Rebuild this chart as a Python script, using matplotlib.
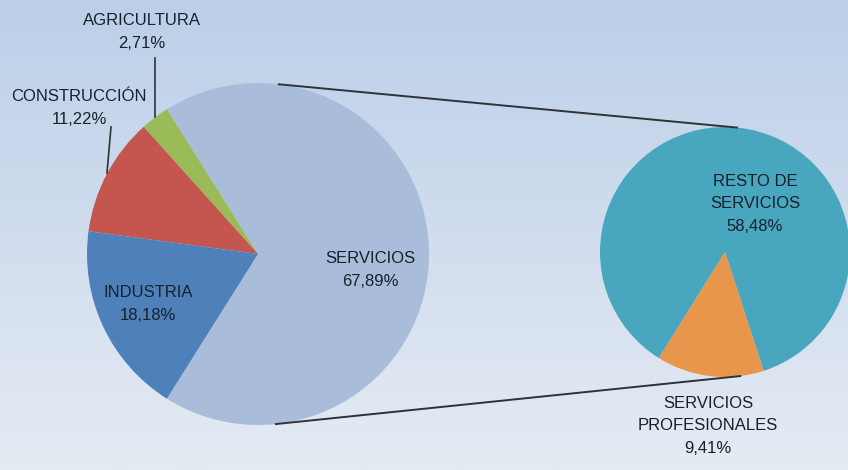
import numpy as np
import matplotlib.pyplot as plt
from matplotlib.colors import LinearSegmentedColormap

plt.rcParams['font.family'] = ['Liberation Sans', 'DejaVu Sans']

# main pie
main_labels = ['SERVICIOS', 'AGRICULTURA', 'CONSTRUCCIÓN', 'INDUSTRIA']
main_vals = [67.89, 2.71, 11.22, 18.18]
main_colors = ['#a9bcd9', '#9bbb59', '#c4554f', '#4e80ba']

# secondary pie (breakdown of SERVICIOS)
sub_labels = ['RESTO DE\nSERVICIOS', 'SERVICIOS\nPROFESIONALES']
sub_vals = [58.48, 9.41]
sub_colors = ['#48a7bf', '#e8964b']

W, H = 848, 470
fig = plt.figure(figsize=(W / 100, H / 100), dpi=100)
ax = fig.add_axes([0, 0, 1, 1])

# background gradient
grad = np.linspace(0, 1, 256).reshape(-1, 1)
cmap = LinearSegmentedColormap.from_list('bg', ['#bccfe9', '#e5ebf3'])
ax.imshow(grad, extent=[0, W, 0, H], cmap=cmap, aspect='auto', zorder=0, origin='upper')

c1, r1 = (258, H - 254), 171
c2, r2 = (725, H - 252), 125

start1 = -main_vals[0] / 100 * 360 / 2
w1, _ = ax.pie(main_vals, colors=main_colors, startangle=start1, center=c1,
               radius=r1, wedgeprops=dict(linewidth=0), frame=True)
w2, _ = ax.pie(sub_vals, colors=sub_colors, startangle=-72, center=c2,
               radius=r2, wedgeprops=dict(linewidth=0), frame=True)
for w in w1 + w2:
    w.set_zorder(2)

# connector lines
def pt(c, r, a):
    return c[0] + r * np.cos(np.radians(a)), c[1] + r * np.sin(np.radians(a))

for a1, a2 in [(83, 84.5), (-84, -83)]:
    p1 = pt(c1, r1, a1)
    p2 = pt(c2, r2, a2)
    ax.plot([p1[0], p2[0]], [p1[1], p2[1]], color='#2e3338', lw=1.4, zorder=3)

tc = '#17212b'
fs = 12
ls = 1.6
ax.text(142, H - 32, 'AGRICULTURA\n2,71%', ha='center', va='center', fontsize=fs,
        color=tc, linespacing=ls, zorder=4)
ax.text(79, H - 108, 'CONSTRUCCIÓN\n11,22%', ha='center', va='center', fontsize=fs,
        color=tc, linespacing=ls, zorder=4)
ax.text(148, H - 304, 'INDUSTRIA\n18,18%', ha='center', va='center', fontsize=fs,
        color=tc, linespacing=ls, zorder=4)
ax.text(370, H - 270, 'SERVICIOS\n67,89%', ha='center', va='center', fontsize=fs,
        color=tc, linespacing=ls, zorder=4)
ax.text(755, H - 204, 'RESTO DE\nSERVICIOS\n58,48%', ha='center', va='center',
        fontsize=fs, color=tc, linespacing=ls, zorder=4)
ax.text(708, H - 426, 'SERVICIOS\nPROFESIONALES\n9,41%', ha='center', va='center',
        fontsize=fs, color=tc, linespacing=ls, zorder=4)

# leader lines
ax.plot([155, 155], [H - 58, H - 117], color='#2e3338', lw=1.2, zorder=3)
ax.plot([111, 107], [H - 127, H - 173], color='#2e3338', lw=1.2, zorder=3)

ax.set_xlim(0, W)
ax.set_ylim(0, H)
ax.set_aspect('auto')
ax.axis('off')

fig.savefig('out.png', dpi=100)
